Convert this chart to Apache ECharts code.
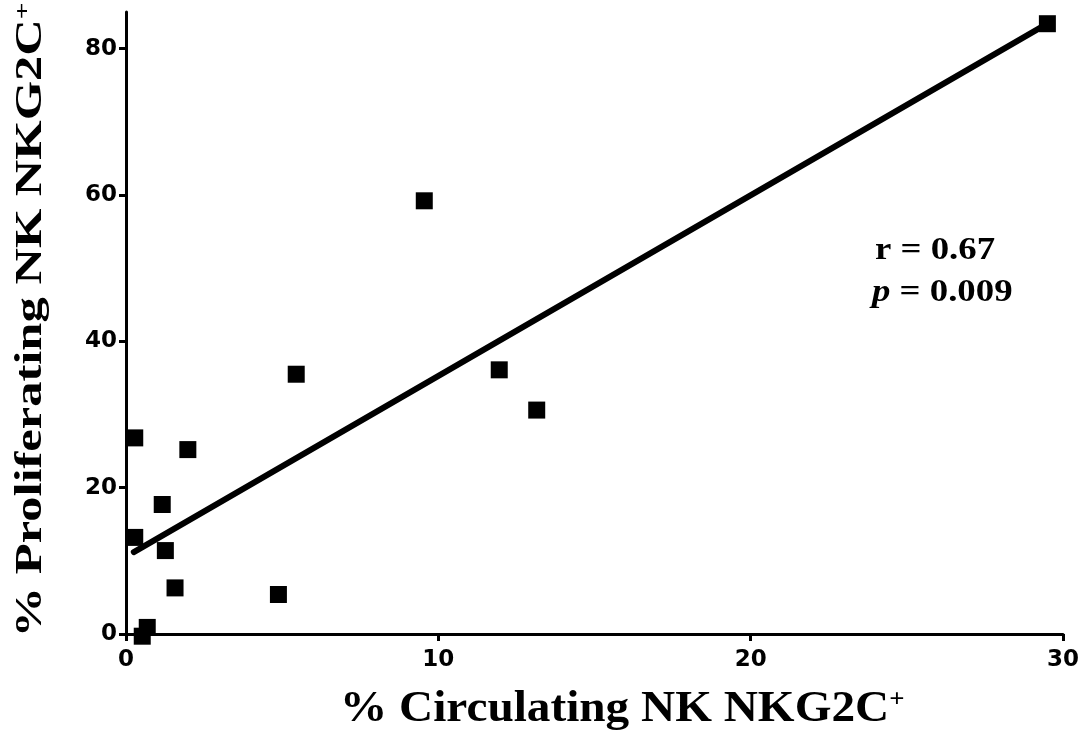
<!DOCTYPE html>
<html>
<head>
<meta charset="utf-8">
<script src="https://cdn.jsdelivr.net/npm/echarts@6/dist/echarts.min.js"></script>
<style>
  html, body { margin: 0; padding: 0; background: #fff; }
  #chart { width: 1086px; height: 740px; }
</style>
</head>
<body>
<div id="chart"></div>
<script>
// % circulating NKG2C+ NK cells (x) vs % proliferating NKG2C+ NK cells (y)
const circulating = [29.5, 9.55, 5.45, 11.95, 13.15, 0.28, 1.98, 1.16, 0.28, 1.26, 1.57, 4.88, 0.68, 0.52];
const proliferating = [83.4, 59.2, 35.5, 36.1, 30.6, 26.8, 25.2, 17.7, 13.2, 11.4, 6.3, 5.4, 0.9, -0.3];

// Linear fit endpoints
const fitX = [0.25, 29.5];
const fitY = [11.2, 83.4];

// Axis ticks
const xTicks = [0, 10, 20, 30];
const yTicks = [0, 20, 40, 60, 80];

const points = circulating.map((x, i) => [x, proliferating[i]]);
const fitLine = fitX.map((x, i) => [x, fitY[i]]);

const chart = echarts.init(document.getElementById('chart'), null, { renderer: 'canvas' });

const tickFont = { fontFamily: 'DejaVu Sans', fontWeight: 'bold', fontSize: 23, color: '#000' };
const serif = 'Liberation Serif';

chart.setOption({
  animation: false,
  backgroundColor: '#fff',
  grid: { left: 126, right: 23, top: 12, bottom: 106, containLabel: false },
  xAxis: {
    type: 'value',
    min: 0, max: 30, interval: 10,
    axisLine: { show: true, onZero: false, lineStyle: { color: '#000', width: 3 } },
    axisTick: { show: true, length: 7, lineStyle: { color: '#000', width: 3 } },
    axisLabel: Object.assign({ margin: 15, formatter: v => xTicks.includes(v) ? String(v) : '' }, tickFont),
    splitLine: { show: false }
  },
  yAxis: {
    type: 'value',
    min: 0, max: 85,
    axisLine: { show: true, onZero: false, lineStyle: { color: '#000', width: 3 } },
    axisTick: { show: true, length: 7, customValues: yTicks, lineStyle: { color: '#000', width: 3 } },
    axisLabel: Object.assign({ margin: 9, customValues: yTicks }, tickFont),
    splitLine: { show: false }
  },
  series: [
    {
      type: 'line',
      data: fitLine,
      symbol: 'none',
      lineStyle: { color: '#000', width: 6, cap: 'round' },
      z: 2
    },
    {
      type: 'scatter',
      data: points,
      symbol: 'rect',
      symbolSize: 17,
      clip: false,
      itemStyle: { color: '#000', opacity: 1 },
      z: 3
    }
  ],
  graphic: [
    {
      type: 'text',
      x: 340, y: 710,
      scaleX: 1.074,
      style: {
        text: '{t|% Circulating NK NKG2C}{s|+}',
        align: 'left', verticalAlign: 'middle',
        rich: {
          t: { fontFamily: serif, fontWeight: 'bold', fontSize: 44, fill: '#000' },
          s: { fontFamily: serif, fontWeight: 'bold', fontSize: 25, fill: '#000', verticalAlign: 'top' }
        }
      }
    },
    {
      type: 'text',
      x: 31, y: 320,
      rotation: Math.PI / 2,
      scaleX: 1.33,
      style: {
        text: '{t|% Proliferating NK NKG2C}{s|+}',
        align: 'center', verticalAlign: 'middle',
        rich: {
          t: { fontFamily: serif, fontWeight: 'bold', fontSize: 38, fill: '#000' },
          s: { fontFamily: serif, fontWeight: 'bold', fontSize: 22, fill: '#000', verticalAlign: 'top' }
        }
      }
    },
    {
      type: 'text',
      x: 875, y: 251,
      scaleX: 1.15,
      style: {
        text: 'r = 0.67',
        align: 'left', verticalAlign: 'middle',
        font: 'bold 32px "Liberation Serif"', fill: '#000'
      }
    },
    {
      type: 'text',
      x: 872, y: 293,
      scaleX: 1.15,
      style: {
        text: '{i|p}{t| = 0.009}',
        align: 'left', verticalAlign: 'middle',
        rich: {
          i: { fontFamily: serif, fontWeight: 'bold', fontStyle: 'italic', fontSize: 32, fill: '#000' },
          t: { fontFamily: serif, fontWeight: 'bold', fontSize: 32, fill: '#000' }
        }
      }
    }
  ]
});
</script>
</body>
</html>
